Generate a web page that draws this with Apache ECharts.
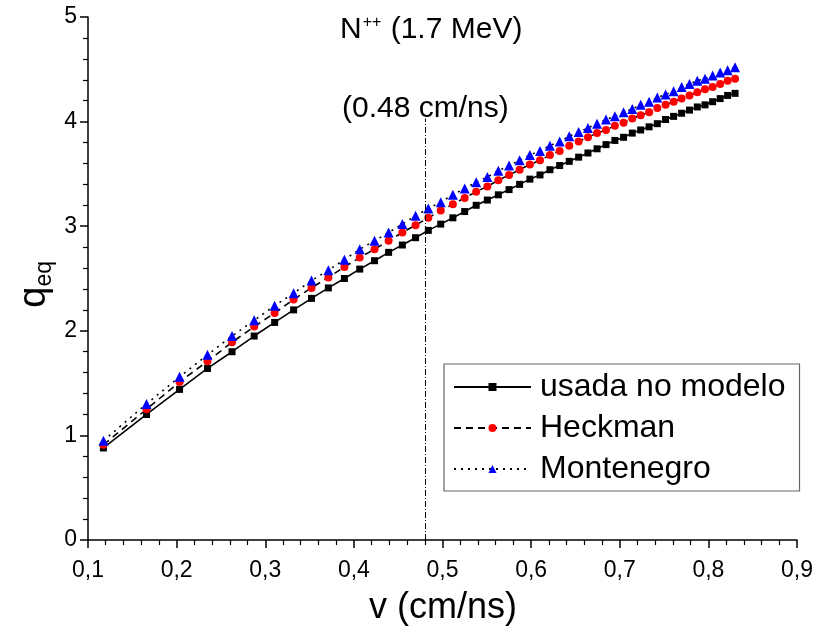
<!DOCTYPE html>
<html>
<head>
<meta charset="utf-8">
<script src="https://cdn.jsdelivr.net/npm/echarts@6/dist/echarts.min.js"></script>
<style>
html,body{margin:0;padding:0;background:#fff;}
#chart{width:816px;height:634px;}
</style>
</head>
<body>
<div id="chart"></div>
<script>
// velocities (cm/ns)
const vValues = [0.1174,0.1660,0.2033,0.2348,0.2625,0.2875,0.3106,0.3320,0.3522,0.3712,
  0.3893,0.4066,0.4233,0.4392,0.4547,0.4696,0.4840,0.4980,0.5117,0.5250,
  0.5380,0.5506,0.5630,0.5751,0.5870,0.5986,0.6100,0.6212,0.6322,0.6430,
  0.6536,0.6641,0.6744,0.6845,0.6945,0.7043,0.7141,0.7236,0.7331,0.7424,
  0.7517,0.7608,0.7698,0.7787,0.7875,0.7962,0.8048,0.8133,0.8217,0.8301];
const qUsada = [0.88,1.20,1.44,1.64,1.80,1.95,2.08,2.20,2.31,2.41,
  2.50,2.59,2.67,2.75,2.82,2.89,2.96,3.02,3.08,3.14,
  3.20,3.25,3.30,3.35,3.40,3.45,3.49,3.54,3.58,3.62,
  3.66,3.70,3.74,3.78,3.82,3.85,3.89,3.92,3.95,3.98,
  4.02,4.05,4.08,4.11,4.14,4.16,4.19,4.22,4.25,4.27];
const qHeckman = [0.91,1.25,1.51,1.71,1.89,2.04,2.17,2.30,2.41,2.51,
  2.61,2.70,2.78,2.86,2.94,3.01,3.08,3.15,3.21,3.27,
  3.33,3.38,3.44,3.49,3.54,3.59,3.63,3.68,3.72,3.77,
  3.81,3.85,3.89,3.92,3.96,3.99,4.03,4.06,4.09,4.13,
  4.16,4.19,4.22,4.25,4.28,4.31,4.33,4.36,4.39,4.41];
const qMontenegro = [0.95,1.30,1.56,1.77,1.95,2.10,2.24,2.36,2.48,2.58,
  2.68,2.78,2.86,2.94,3.02,3.10,3.17,3.23,3.30,3.36,
  3.42,3.47,3.53,3.58,3.63,3.68,3.72,3.77,3.81,3.86,
  3.90,3.94,3.98,4.02,4.05,4.09,4.12,4.16,4.19,4.23,
  4.26,4.29,4.33,4.36,4.39,4.41,4.44,4.47,4.49,4.52];
const seriesNames = ['usada no modelo','Heckman','Montenegro'];
const markerV = 0.48;
const markerTop = 4.03;
const titleText = 'N';
const titleSup = '++';
const titleRest = ' (1.7 MeV)';
const markerLabel = '(0.48 cm/ns)';
const xName = 'v (cm/ns)';

const pair = (ys) => vValues.map((v, i) => [v, ys[i]]);
const FONT = 'Liberation Sans, Arial, sans-serif';

const chart = echarts.init(document.getElementById('chart'));
chart.setOption({
  backgroundColor: '#fff',
  animation: false,
  grid: {left: 88, right: 17, top: 17, bottom: 94},
  xAxis: {
    type: 'value', min: 0.1, max: 0.9, interval: 0.1,
    splitLine: {show: false},
    axisLine: {onZero: false, lineStyle: {color: '#000', width: 1.5}},
    axisTick: {inside: false, length: 8, lineStyle: {color: '#000', width: 1.5}},
    minorTick: {show: true, splitNumber: 5, length: 5, lineStyle: {color: '#000', width: 1.2}},
    axisLabel: {color: '#000', fontSize: 23, fontFamily: FONT, margin: 19,
      formatter: v => v.toFixed(1).replace('.', ',')}
  },
  yAxis: {
    type: 'value', min: 0, max: 5, interval: 1,
    splitLine: {show: false},
    axisLine: {show: true, onZero: false, lineStyle: {color: '#000', width: 1.5}},
    axisTick: {show: true, length: 8, lineStyle: {color: '#000', width: 1.5}},
    minorTick: {show: true, splitNumber: 5, length: 5, lineStyle: {color: '#000', width: 1.2}},
    axisLabel: {color: '#000', fontSize: 23, fontFamily: FONT, margin: 11}
  },
  legend: {
    orient: 'vertical', left: 444, top: 364,
    padding: [7, 14, 6, 9],
    itemGap: 9, itemWidth: 77, itemHeight: 10,
    borderColor: '#666', borderWidth: 1.2,
    textStyle: {fontSize: 32, lineHeight: 32, fontFamily: FONT, color: '#000', padding: [0, 0, 0, 4]},
    data: seriesNames
  },
  series: [
    {
      name: seriesNames[0], type: 'line', data: pair(qUsada),
      symbol: 'rect', symbolSize: 7,
      itemStyle: {color: '#000'},
      lineStyle: {color: '#000', width: 1.6, type: 'solid'},
      markLine: {
        silent: true, symbol: 'none', label: {show: false},
        lineStyle: {color: '#000', width: 1, type: [6, 2, 1, 2]},
        data: [[{coord: [markerV, 0]}, {coord: [markerV, markerTop]}]]
      }
    },
    {
      name: seriesNames[1], type: 'line', data: pair(qHeckman),
      symbol: 'circle', symbolSize: 8,
      itemStyle: {color: '#ff0000'},
      lineStyle: {color: '#000', width: 1.6, type: [7, 5]}
    },
    {
      name: seriesNames[2], type: 'line', data: pair(qMontenegro),
      symbol: 'triangle', symbolSize: 10,
      itemStyle: {color: '#0000ff'},
      lineStyle: {color: '#000', width: 1.6, type: [2, 5]}
    }
  ],
  graphic: [
    {type: 'text', left: 340, top: 15,
      style: {rich: {
        a: {fontSize: 30, fontFamily: FONT, fill: '#000'},
        s: {fontSize: 16, fontFamily: FONT, fill: '#000', verticalAlign: 'top', padding: [0, 1, 14, 1]}
      }, text: '{a|' + titleText + '}{s|' + titleSup + '}{a|' + titleRest + '}'}},
    {type: 'text', left: 342, top: 94,
      style: {text: markerLabel, fontSize: 30, fontFamily: FONT, fill: '#000'}},
    {type: 'text', left: 369, top: 590,
      style: {text: xName, fontSize: 36, fontFamily: FONT, fill: '#000'}},
    {type: 'text', left: 16, top: 261, rotation: Math.PI / 2,
      style: {rich: {
        a: {fontSize: 38, fontFamily: FONT, fill: '#000'},
        s: {fontSize: 23, fontFamily: FONT, fill: '#000', padding: [19, 0, 0, 0]}
      }, text: '{a|q}{s|eq}'}}
  ]
});
</script>
</body>
</html>
